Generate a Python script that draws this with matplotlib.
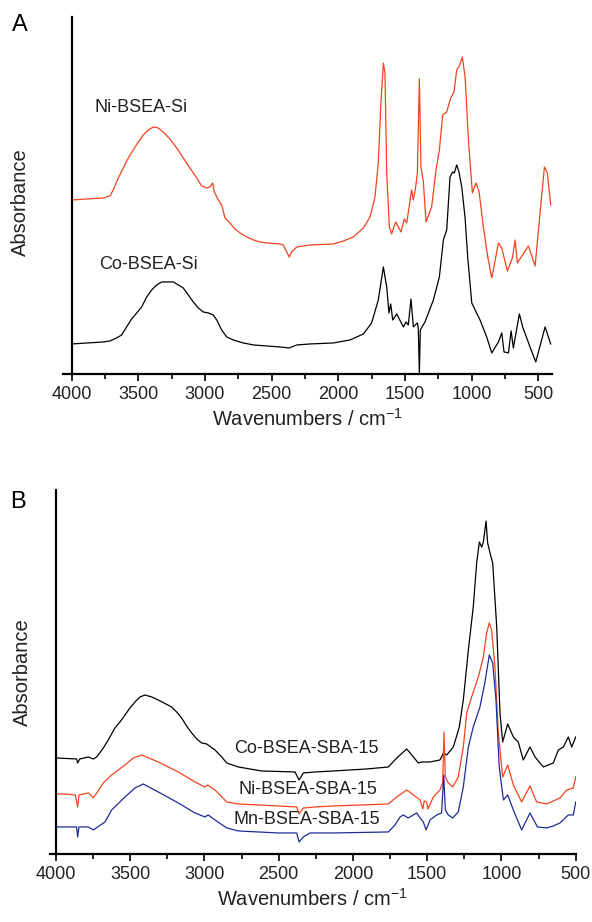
import numpy as np
import matplotlib
matplotlib.use('Agg')
import matplotlib.pyplot as plt
from matplotlib.ticker import MultipleLocator

plt.rcParams['font.family'] = ['Liberation Sans', 'DejaVu Sans']
plt.rcParams['mathtext.fontset'] = 'custom'
plt.rcParams['mathtext.rm'] = 'Liberation Sans'
plt.rcParams['mathtext.it'] = 'Liberation Sans:italic'

ORANGE = '#f2441e'
BLUE = '#1f2c98'

## Panel A : metal complexes on silica

wn_ni_a = [4000, 4000, 3763, 3713, 3688, 3650, 3613, 3575, 3538, 3500, 3463, 3425, 3388, 3350, 3313,
           3263, 3212, 3163, 3113, 3062, 3025, 2987, 2963, 2942, 2930, 2900, 2875, 2850, 2812, 2775,
           2737, 2687, 2637, 2587, 2537, 2437, 2413, 2368, 2350, 2312, 2212, 2037, 1962,
           1887, 1812, 1762, 1725, 1700, 1682, 1662, 1650, 1637, 1617, 1600, 1570, 1530, 1505, 1487,
           1450, 1437, 1420, 1407, 1392, 1380, 1362, 1342, 1300, 1267, 1242, 1217, 1187, 1157, 1132,
           1112, 1092, 1070, 1049, 1024, 994, 967, 944, 912, 879, 849, 799, 774, 732, 694, 674, 657,
           574, 524, 454, 432, 407]
ab_ni_a = [0.0, 1.74, 1.76, 1.78, 1.84, 1.96, 2.06, 2.16, 2.24, 2.32, 2.39, 2.44, 2.47, 2.46, 2.42,
           2.35, 2.26, 2.16, 2.06, 1.96, 1.88, 1.86, 1.87, 1.91, 1.82, 1.74, 1.69, 1.56, 1.51, 1.45,
           1.41, 1.37, 1.34, 1.32, 1.31, 1.30, 1.29, 1.17, 1.22, 1.27, 1.29, 1.30, 1.33,
           1.37, 1.46, 1.57, 1.77, 2.11, 2.67, 3.11, 3.01, 2.01, 1.47, 1.40, 1.52, 1.42, 1.55, 1.51,
           1.84, 1.74, 1.87, 2.01, 2.95, 2.07, 1.92, 1.52, 1.67, 2.04, 2.24, 2.59, 2.62, 2.76, 2.82,
           3.04, 3.08, 3.17, 2.97, 2.34, 1.81, 1.91, 1.82, 1.47, 1.17, 0.96, 1.31, 1.26, 1.03, 1.16,
           1.34, 1.11, 1.28, 1.08, 2.07, 2.01, 1.69]

wn_co_a = [4000, 3763, 3713, 3663, 3625, 3588, 3550, 3512, 3475, 3437, 3400, 3362, 3325, 3238, 3200,
           3163, 3125, 3088, 3050, 3013, 2975, 2938, 2912, 2875, 2837, 2788, 2712, 2637, 2537, 2437,
           2368, 2312, 2212, 2037, 1912, 1812, 1750, 1700, 1662, 1637, 1620, 1607,
           1592, 1562, 1512, 1492, 1475, 1455, 1437, 1407, 1400, 1392, 1385, 1350, 1287, 1242, 1212,
           1187, 1162, 1142, 1130, 1112, 1095, 1074, 1049, 1029, 999, 937, 887, 849, 799, 774, 757,
           724, 704, 687, 642, 617, 562, 519, 449, 407]
ab_co_a = [0.30, 0.32, 0.33, 0.36, 0.39, 0.47, 0.55, 0.61, 0.67, 0.77, 0.84, 0.89, 0.92, 0.92, 0.89,
           0.86, 0.79, 0.72, 0.66, 0.62, 0.61, 0.59, 0.54, 0.44, 0.37, 0.34, 0.31, 0.29, 0.28, 0.27,
           0.26, 0.29, 0.30, 0.31, 0.34, 0.40, 0.51, 0.74, 1.07, 0.87, 0.61, 0.70,
           0.54, 0.60, 0.47, 0.52, 0.49, 0.75, 0.47, 0.51, 0.46, 0.01, 0.44, 0.52, 0.74, 0.97, 1.34,
           1.44, 1.97, 2.02, 2.01, 2.09, 2.02, 1.87, 1.56, 1.16, 0.71, 0.54, 0.37, 0.21, 0.32, 0.41,
           0.22, 0.21, 0.43, 0.26, 0.60, 0.47, 0.27, 0.12, 0.47, 0.30]

## Panel B : metal complexes on SBA-15

wn_co_b = [4000, 3861, 3854, 3840, 3782, 3749, 3726, 3681, 3648, 3603, 3569, 3535, 3502, 3468, 3434,
           3401, 3355, 3311, 3221, 3187, 3154, 3120, 3086, 3052, 3019, 2985, 2929, 2884, 2850, 2772,
           2615, 2390, 2363, 2334, 2256, 2132, 1907, 1762, 1705, 1638,
           1593, 1560, 1537, 1481, 1414, 1391, 1369, 1324, 1284, 1257, 1223, 1190, 1167, 1149, 1133,
           1122, 1113, 1104, 1093, 1077, 1059, 1032, 1010, 992, 958, 920, 887, 853, 808, 774, 718,
           651, 617, 583, 550, 527, 500]
ab_co_b = [0.96, 0.95, 0.91, 0.95, 0.97, 0.95, 0.97, 1.06, 1.14, 1.26, 1.32, 1.39, 1.46, 1.52, 1.57,
           1.59, 1.57, 1.54, 1.47, 1.42, 1.36, 1.28, 1.21, 1.15, 1.11, 1.10, 1.04, 0.97, 0.91, 0.87,
           0.83, 0.82, 0.74, 0.81, 0.82, 0.83, 0.85, 0.87, 0.96, 1.05,
           0.97, 0.91, 0.92, 0.92, 0.94, 1.01, 0.99, 1.07, 1.27, 1.54, 2.04, 2.47, 2.91, 3.12, 3.07,
           3.12, 3.22, 3.33, 3.11, 3.01, 2.91, 2.27, 1.41, 1.12, 1.30, 1.17, 1.12, 0.94, 1.07, 0.97,
           0.87, 0.91, 1.04, 1.07, 1.17, 1.07, 1.17]

wn_ni_b = [4000, 4000, 3939, 3870, 3854, 3845, 3782, 3760, 3749, 3730, 3681, 3625, 3535, 3479, 3423,
           3311, 3176, 3064, 2997, 2978, 2929, 2850, 2772, 2503, 2379, 2363, 2334, 2256, 2132, 1762,
           1705, 1638, 1593, 1548, 1530, 1520, 1504, 1495, 1459, 1414, 1396, 1387, 1378, 1358, 1328,
           1291, 1257, 1234, 1201, 1156, 1122, 1100, 1082, 1066, 1044, 1021, 992, 958, 920, 864, 808,
           763, 695, 606, 561, 516, 500]
ab_ni_b = [0.0, 0.60, 0.60, 0.59, 0.47, 0.59, 0.61, 0.58, 0.56, 0.60, 0.71, 0.79, 0.89, 0.96, 0.99,
           0.92, 0.82, 0.72, 0.67, 0.69, 0.64, 0.52, 0.50, 0.48, 0.47, 0.40, 0.46, 0.47, 0.48, 0.50,
           0.57, 0.64, 0.59, 0.54, 0.45, 0.53, 0.52, 0.45, 0.57, 0.64, 0.71, 1.22, 0.77, 0.71, 0.67,
           0.77, 1.07, 1.41, 1.57, 1.77, 1.97, 2.21, 2.31, 2.24, 1.87, 1.21, 0.77, 0.89, 0.69, 0.52,
           0.68, 0.52, 0.50, 0.56, 0.64, 0.66, 0.77]

wn_mn_b = [4000, 3861, 3854, 3845, 3782, 3749, 3670, 3625, 3535, 3468, 3412, 3311, 3176, 3064, 2997,
           2975, 2929, 2850, 2772, 2503, 2379, 2363, 2334, 2289, 2132, 1762, 1717, 1683, 1661, 1628,
           1571, 1548, 1526, 1508, 1481, 1436, 1403, 1389, 1378, 1358, 1328, 1291, 1257, 1223, 1190,
           1145, 1111, 1082, 1059, 1037, 1015, 987, 958, 920, 864, 808, 758, 695, 651, 606, 550, 516,
           500]
ab_mn_b = [0.27, 0.27, 0.17, 0.27, 0.27, 0.24, 0.32, 0.44, 0.57, 0.66, 0.70, 0.62, 0.51, 0.41, 0.37,
           0.39, 0.34, 0.26, 0.23, 0.21, 0.21, 0.12, 0.17, 0.21, 0.21, 0.22, 0.29, 0.37, 0.39, 0.36,
           0.41, 0.36, 0.32, 0.24, 0.34, 0.39, 0.41, 0.79, 0.44, 0.39, 0.36, 0.42, 0.67, 1.07, 1.27,
           1.47, 1.72, 1.99, 1.91, 1.54, 0.87, 0.54, 0.59, 0.44, 0.24, 0.41, 0.27, 0.26, 0.28, 0.31,
           0.39, 0.39, 0.52]


def style_axis(ax, x_left, x_right, y_top):
    ax.set_xlim(x_left, x_right)
    ax.set_ylim(0, y_top)
    for side in ['top', 'right']:
        ax.spines[side].set_visible(False)
    ax.spines['left'].set_position(('data', 4000))
    ax.spines['left'].set_linewidth(1.6)
    ax.spines['bottom'].set_linewidth(1.6)
    ax.set_yticks([])
    ax.xaxis.set_major_locator(MultipleLocator(500))
    ax.xaxis.set_minor_locator(MultipleLocator(250))
    ax.tick_params(axis='x', which='major', direction='out', length=5, width=1.4,
                   labelsize=13, pad=4, colors='#222222')
    ax.tick_params(axis='x', which='minor', direction='out', length=3.5, width=1.2)
    ax.set_xlabel(r'Wavenumbers / cm$^{-1}$', fontsize=14.5, color='#222222', labelpad=3)
    ax.set_ylabel('Absorbance', fontsize=14.5, color='#222222')


fig = plt.figure(figsize=(5.92, 9.22), dpi=100)

# panel A
ax1 = fig.add_axes([0.1064, 0.5944, 0.9318 - 0.1064, 0.9816 - 0.5944])
ax1.plot(wn_ni_a, ab_ni_a, color=ORANGE, lw=0.9)
ax1.plot(wn_co_a, ab_co_a, color='black', lw=0.9)
style_axis(ax1, 4065, 400, 3.57)
ax1.yaxis.set_label_coords(-0.068, 0.48)
ax1.text(3480, 2.66, 'Ni-BSEA-Si', fontsize=13, ha='center', va='center', color='#222222')
ax1.text(3427, 1.09, 'Co-BSEA-Si', fontsize=13, ha='center', va='center', color='#222222')

# panel B
ax2 = fig.add_axes([0.0845, 0.0738, 0.9725 - 0.0845, 0.4685 - 0.0738])
ax2.plot(wn_co_b, ab_co_b, color='black', lw=0.9)
ax2.plot(wn_ni_b, ab_ni_b, color=ORANGE, lw=0.9)
ax2.plot(wn_mn_b, ab_mn_b, color=BLUE, lw=0.9)
style_axis(ax2, 4040, 500, 3.64)
ax2.yaxis.set_label_coords(-0.034, 0.5)
ax2.text(2313, 1.05, 'Co-BSEA-SBA-15', fontsize=13, ha='center', va='center', color='#222222')
ax2.text(2306, 0.64, 'Ni-BSEA-SBA-15', fontsize=13, ha='center', va='center', color='#222222')
ax2.text(2310, 0.34, 'Mn-BSEA-SBA-15', fontsize=13, ha='center', va='center', color='#222222')

fig.text(20 / 592, 1 - 25 / 922, 'A', fontsize=17, ha='center', va='center')
fig.text(18 / 592, 1 - 502 / 922, 'B', fontsize=17, ha='center', va='center')

fig.savefig('out.png', dpi=100)
